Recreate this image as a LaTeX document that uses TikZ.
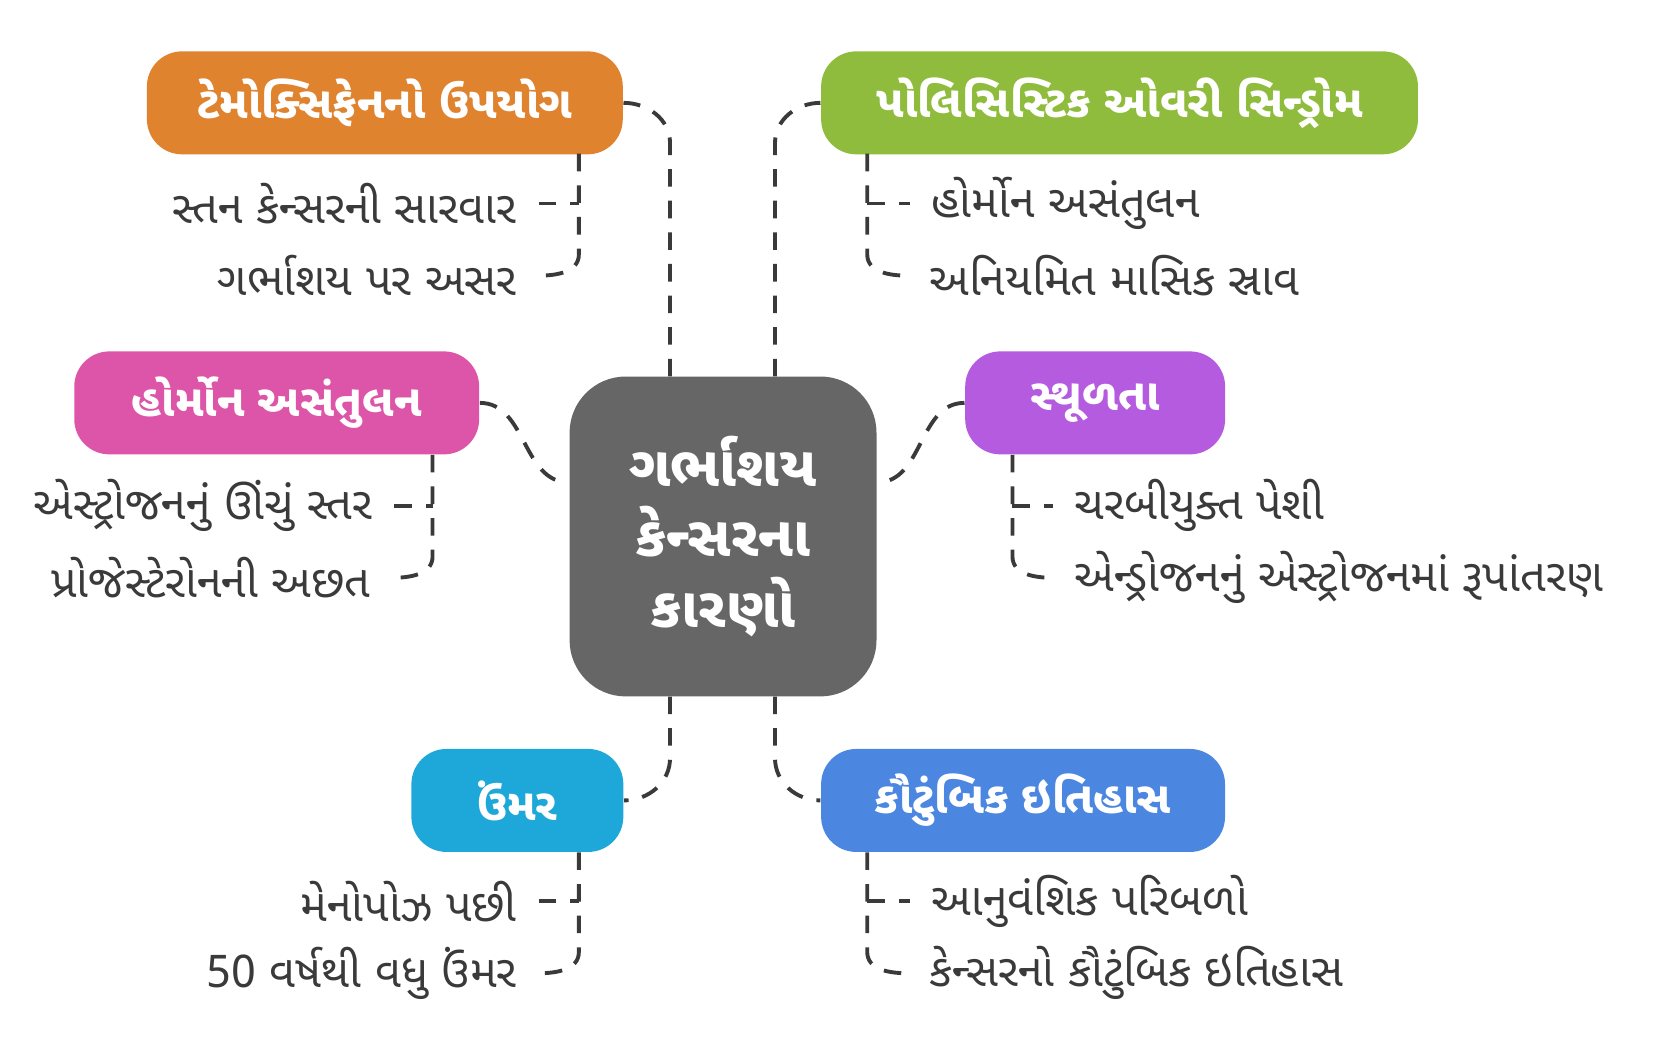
\documentclass[tikz,border=0pt]{standalone}
\usepackage{fontspec}
\newfontfamily\guj[Script=Gujarati]{Noto Sans Gujarati UI}
\usepackage{tikz}
\definecolor{orng}{HTML}{E0832F}
\definecolor{grn}{HTML}{8FBC3C}
\definecolor{pnk}{HTML}{DD55A8}
\definecolor{prpl}{HTML}{B45BE0}
\definecolor{cyn}{HTML}{1EA8D9}
\definecolor{blu}{HTML}{4B86E0}
\definecolor{gry}{HTML}{666666}
\definecolor{txt}{HTML}{3A3A3A}
\tikzset{
  topic/.style={rounded corners=10pt,text=white,font=\guj\bfseries\fontsize{12.6}{14}\selectfont,inner sep=0pt},
  item/.style={text=txt,font=\guj\fontsize{12.8}{14}\selectfont,inner xsep=6pt,inner ysep=2pt},
  link/.style={draw=txt,line width=1.1pt,dash pattern=on 5pt off 4pt}
}
\begin{document}
\begin{tikzpicture}[x=0.0106cm,y=-0.0106cm]
\useasboundingbox (0,0) rectangle (1562,996);
% center
\node[topic,fill=gry,minimum width=3.07cm,minimum height=3.2cm,rounded corners=16pt,align=center,font=\guj\bfseries\fontsize{16}{20}\selectfont] (c) at (682,506) {ગર્ભાશય\\કેન્સરના\\કારણો};
% topics
\node[topic,fill=orng,minimum width=4.76cm,minimum height=1.03cm] (tam) at (363,97) {ટેમોક્સિફેનનો ઉપયોગ};
\node[topic,fill=grn,minimum width=5.97cm,minimum height=1.03cm] (pcos) at (1056,97) {પોલિસિસ્ટિક ઓવરી સિન્ડ્રોમ};
\node[topic,fill=pnk,minimum width=4.05cm,minimum height=1.03cm] (hor) at (261,380) {હોર્મોન અસંતુલન};
\node[topic,fill=prpl,minimum width=2.6cm,minimum height=1.03cm] (obs) at (1033,380) {સ્થૂળતા};
\node[topic,fill=cyn,minimum width=2.12cm,minimum height=1.03cm] (age) at (488,755) {ઉંમર};
\node[topic,fill=blu,minimum width=4.04cm,minimum height=1.03cm] (fam) at (965,755) {કૌટુંબિક ઇતિહાસ};
% links to center
\draw[link] (632,355) -- (632,135) to[out=90,in=0] (tam.east);
\draw[link] (731,355) -- (731,135) to[out=90,in=180] (pcos.west);
\draw[link] (hor.east) to[out=0,in=180] (c.west |- 0,455);
\draw[link] (obs.west) to[out=180,in=0] (c.east |- 0,455);
\draw[link] (632,657) -- (632,715) to[out=-90,in=0] (age.east);
\draw[link] (731,657) -- (731,715) to[out=-90,in=180] (fam.west);
% items
\node[item,anchor=east] (tam1) at (508,192) {સ્તન કેન્સરની સારવાર};
\node[item,anchor=east] (tam2) at (508,260) {ગર્ભાશય પર અસર};
\draw[link] (546,145) -- (546,240) to[out=-90,in=0] (tam2.east);
\draw[link] (tam1.east) -- (546,192);
\node[item,anchor=west] (pcos1) at (858,192) {હોર્મોન અસંતુલન};
\node[item,anchor=west] (pcos2) at (856,260) {અનિયમિત માસિક સ્રાવ};
\draw[link] (818,145) -- (818,240) to[out=-90,in=180] (pcos2.west);
\draw[link] (818,192) -- (pcos1.west);
\node[item,anchor=east] (hor1) at (372,477) {એસ્ટ્રોજનનું ઊંચું સ્તર};
\node[item,anchor=east] (hor2) at (370,545) {પ્રોજેસ્ટેરોનની અછત};
\draw[link] (408,429) -- (408,525) to[out=-90,in=0] (hor2.east);
\draw[link] (hor1.east) -- (408,477);
\node[item,anchor=west] (obs1) at (993,477) {ચરબીયુક્ત પેશી};
\node[item,anchor=west] (obs2) at (993,545) {એન્ડ્રોજનનું એસ્ટ્રોજનમાં રૂપાંતરણ};
\draw[link] (955,429) -- (955,525) to[out=-90,in=180] (obs2.west);
\draw[link] (955,477) -- (obs1.west);
\node[item,anchor=east] (age1) at (508,850) {મેનોપોઝ પછી};
\node[item,anchor=east] (age2) at (508,918) {50 વર્ષથી વધુ ઉંમર};
\draw[link] (546,804) -- (546,898) to[out=-90,in=0] (age2.east);
\draw[link] (age1.east) -- (546,850);
\node[item,anchor=west] (fam1) at (858,850) {આનુવંશિક પરિબળો};
\node[item,anchor=west] (fam2) at (856,918) {કેન્સરનો કૌટુંબિક ઇતિહાસ};
\draw[link] (818,804) -- (818,898) to[out=-90,in=180] (fam2.west);
\draw[link] (818,850) -- (fam1.west);
\end{tikzpicture}
\end{document}
